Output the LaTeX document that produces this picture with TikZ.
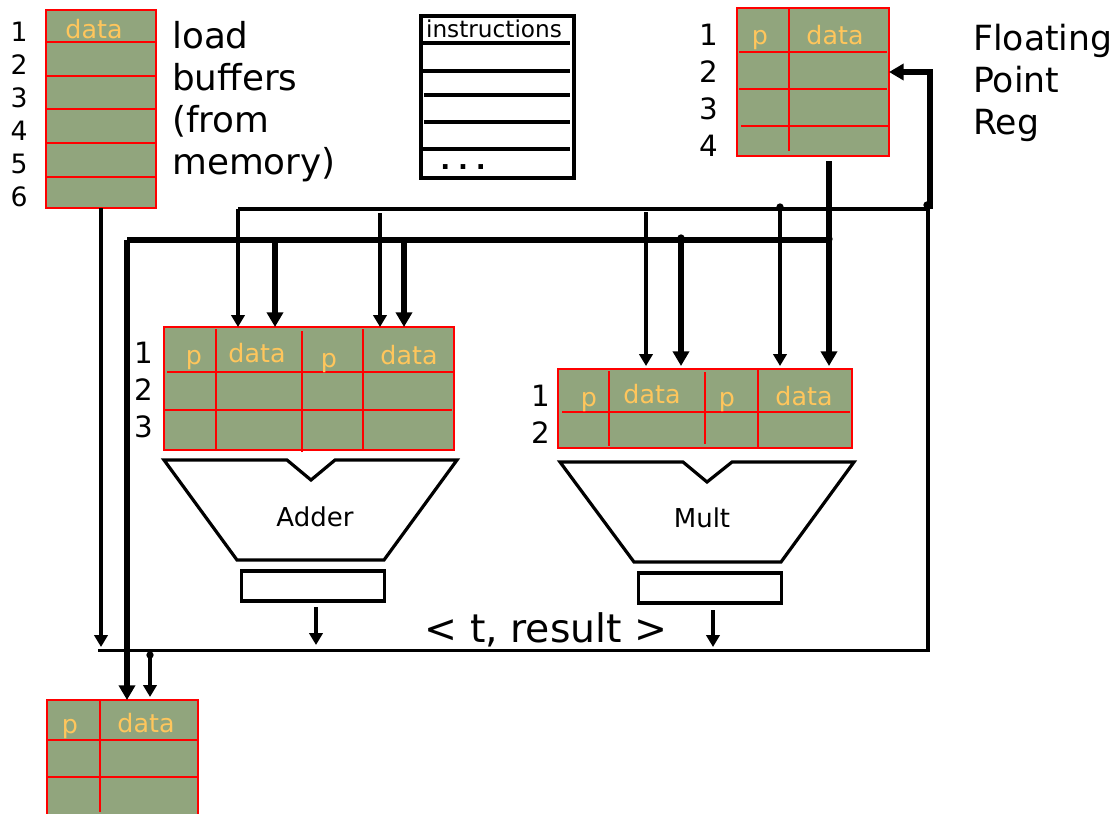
\documentclass[tikz,border=0pt]{standalone}
\usepackage{fontspec}
\setmainfont{DejaVu Sans}
\usetikzlibrary{positioning, calc, arrows.meta}
\definecolor{cellgreen}{RGB}{145,165,125}
\definecolor{cellgold}{RGB}{255,198,92}

\begin{document}
\begin{tikzpicture}[
		x=0.75pt, y=-0.75pt, % one unit is one pixel of the reference
		regtable/.style={
				draw=red,
				line width=1.5pt,
				fill=cellgreen,
				rectangle,
				inner sep=0pt,
				outer sep=0pt
			},
		gridline/.style={
				draw=red,
				line width=1.4pt
			},
		hdr/.style={
				text=cellgold,
				inner sep=0pt,
				font=\fontsize{19}{23}\selectfont
			},
		rownum/.style={
				inner sep=0pt,
				font=\fontsize{22}{26}\selectfont
			},
		smallnum/.style={
				inner sep=0pt,
				font=\fontsize{20}{24}\selectfont
			},
		sidelabel/.style={
				anchor=north west,
				inner sep=0pt,
				align=left,
				font=\fontsize{26}{31.5}\selectfont
			},
		unitlabel/.style={
				inner sep=0pt,
				font=\fontsize{19.5}{23}\selectfont
			},
		outbox/.style={
				draw,
				rectangle,
				line width=2.4pt,
				minimum width=107pt,
				minimum height=22.5pt,
				outer sep=0pt
			},
		alu/.style={
				draw,
				line width=2.4pt,
				line join=miter
			},
		thinbus/.style={
				line width=2.4pt
			},
		thickbus/.style={
				line width=4pt
			},
		thinarrow/.style={
				line width=2.4pt,
				-{Triangle[length=9pt,width=10pt]}
			},
		thickarrow/.style={
				line width=4pt,
				-{Triangle[length=11pt,width=12pt]}
			},
		tapdot/.style={
				fill=black,
				circle,
				inner sep=0pt,
				minimum size=5.5pt
			}
	]
	\useasboundingbox (0,0) rectangle (1118,814);

	% Register tables
	\node[regtable, minimum width=82.5pt, minimum height=148.5pt] (loadbuf) at (101,109) {};
	\node[regtable, minimum width=114pt, minimum height=111pt] (fpreg) at (813,82) {};
	\node[regtable, minimum width=217.5pt, minimum height=92.25pt] (addrs) at (309,388.5) {};
	\node[regtable, minimum width=220.5pt, minimum height=59.25pt] (multrs) at (705,408.5) {};
	\node[regtable, draw=none, minimum width=112.9pt, minimum height=85.5pt] (storebuf) at (122.75,757) {};
	\draw[gridline, line width=1.5pt] (storebuf.south west) |- (storebuf.north east) -- (storebuf.south east);

	% Table rules
	\draw[gridline] (46,42) -- (156,42);
	\draw[gridline] (46,76) -- (156,76);
	\draw[gridline] (46,109) -- (156,109);
	\draw[gridline] (46,143) -- (156,143);
	\draw[gridline] (46,177) -- (156,177);

	\draw[gridline] (739,52) -- (887,52);
	\draw[gridline] (739,89) -- (887,89);
	\draw[gridline] (741,126) -- (889,126);
	\draw[gridline] (789,8) -- (789,151);

	\draw[gridline] (167,372) -- (454,372);
	\draw[gridline] (164,410) -- (452,410);
	\draw[gridline] (216,329) -- (216,450);
	\draw[gridline] (302,331) -- (302,452);
	\draw[gridline] (363,329) -- (363,450);

	\draw[gridline] (562,412) -- (850,412);
	\draw[gridline] (609,371) -- (609,446);
	\draw[gridline] (705,372) -- (705,444);
	\draw[gridline] (758,369) -- (758,448);

	\draw[gridline] (47,740) -- (198,740);
	\draw[gridline] (47,777) -- (198,777);
	\draw[gridline] (100,700) -- (100,812);

	% Column headers
	\node[hdr] (loaddata) at (94,29) {data};
	\node[hdr] (fpp) at (760,40) {p};
	\node[hdr] (fpdata) at (835,35) {data};
	\node[hdr] (addp1) at (194,360) {p};
	\node[hdr] (adddata1) at (257,353) {data};
	\node[hdr] (addp2) at (329,363) {p};
	\node[hdr] (adddata2) at (409,355) {data};
	\node[hdr] (multp1) at (589,402) {p};
	\node[hdr] (multdata1) at (652,394) {data};
	\node[hdr] (multp2) at (727,402) {p};
	\node[hdr] (multdata2) at (804,396) {data};
	\node[hdr] (storep) at (70,729) {p};
	\node[hdr] (storedata) at (146,723) {data};

	% Row numbers
	\node[smallnum] (load1) at (19,32) {1};
	\node[smallnum] (load2) at (19,65) {2};
	\node[smallnum] (load3) at (19,98) {3};
	\node[smallnum] (load4) at (19,131) {4};
	\node[smallnum] (load5) at (19,164) {5};
	\node[smallnum] (load6) at (19,197) {6};
	\node[rownum] (fp1) at (709,35) {1};
	\node[rownum] (fp2) at (709,72) {2};
	\node[rownum] (fp3) at (709,109) {3};
	\node[rownum] (fp4) at (709,146) {4};
	\node[rownum] (add1) at (144,353) {1};
	\node[rownum] (add2) at (144,390) {2};
	\node[rownum] (add3) at (144,427) {3};
	\node[rownum] (mult1) at (541,396) {1};
	\node[rownum] (mult2) at (541,433) {2};

	% Side labels
	\node[sidelabel, font=\fontsize{26.8}{31.5}\selectfont] (loadlabel) at (172,21) {load\\buffers\\(from\\memory)};
	\node[sidelabel] (fplabel) at (973,24) {Floating\\Point\\Reg};
	\node[inner sep=0pt, font=\fontsize{29.5}{34}\selectfont] (tagresult) at (546,630) {< t, result >};

	% Instruction queue
	\node[draw, rectangle, line width=2.3pt, inner sep=0pt, outer sep=0pt,
		minimum width=114.75pt, minimum height=121.5pt] (instrq) at (497.5,97) {};
	\node[inner sep=0pt, font=\fontsize{17.4}{20}\selectfont] (instrlabel) at (494,29) {instructions};
	\draw[thinbus] (421,43) -- (570,43);
	\draw[thinbus] (423,71) -- (570,71);
	\draw[thinbus] (424,95) -- (570,95);
	\draw[thinbus] (424,122) -- (570,122);
	\draw[thinbus] (421,149) -- (570,149);
	\node[inner sep=0pt, font=\fontsize{19.6}{23}\bfseries\addfontfeature{LetterSpace=30}] (instrmore) at (463,167) {...};

	% Functional units
	\draw[alu] (164,460) -- (287,460) -- (311,480) -- (335,460) -- (457,460) -- (384,560) -- (237,560) -- cycle;
	\node[unitlabel] (adderlabel) at (315,517) {Adder};
	\draw[alu] (560,462) -- (683,462) -- (707,482) -- (732,462) -- (854,462) -- (781,562) -- (634,562) -- cycle;
	\node[unitlabel] (multlabel) at (702,518) {Mult};
	\node[outbox] (adderout) at (313,586) {};
	\node[outbox] (multout) at (710,588) {};

	% Junctions and free ends
	\coordinate (busatop) at (238,209);
	\coordinate (busacorner) at (928,209);
	\coordinate (cdbright) at (928,650.5);
	\coordinate (cdbleft) at (98,650.5);
	\coordinate (busbleft) at (127,240);
	\coordinate (busbright) at (829,240);
	\coordinate (fpdrop) at (829,161);
	\coordinate (addin2) at (380,213);
	\coordinate (addin3) at (275,240);
	\coordinate (addin4) at (404,240);
	\coordinate (multin1) at (646,212);
	\coordinate (multin2) at (681,240);
	\coordinate (multin3) at (780,209);
	\coordinate (fpret) at (930,209);
	\coordinate (loaddrop) at (101,647);
	\coordinate (addres) at (316,607);
	\coordinate (addrestip) at (316,645);
	\coordinate (multres) at (713,610);
	\coordinate (multrestip) at (713,647);
	\coordinate (storetap) at (150,654);

	% Buses
	\draw[thinbus] (busatop) -- (busacorner) -- (cdbright) -- (cdbleft);
	\draw[thickbus] (busbleft) -- (busbright);

	% Paths into the adder stations
	\draw[thinarrow] (busatop) -- (busatop |- addrs.north);
	\draw[thickarrow] (addin3) -- (addin3 |- addrs.north);
	\draw[thinarrow] (addin2) -- (addin2 |- addrs.north);
	\draw[thickarrow] (addin4) -- (addin4 |- addrs.north);

	% Paths into the multiplier stations
	\draw[thinarrow] (multin1) -- ($(multin1 |- multrs.north)+(0,-3)$);
	\draw[thickarrow] (multin2) -- ($(multin2 |- multrs.north)+(0,-3)$);
	\draw[thinarrow] (multin3) -- ($(multin3 |- multrs.north)+(0,-3)$);
	\draw[thickarrow] (fpdrop) -- ($(fpdrop |- multrs.north)+(0,-3)$);

	% Register file return path
	\draw[thickarrow] (fpret) |- (fpreg.east |- 0,72);

	% Results onto the common bus
	\draw[thinarrow] (loadbuf.south -| loaddrop) -- (loaddrop);
	\draw[thinarrow] (addres) -- (addrestip);
	\draw[thinarrow] (multres) -- (multrestip);

	% Bottom buffer
	\draw[thickarrow] (busbleft) -- (busbleft |- storebuf.north);
	\draw[thinarrow] (storetap) -- ($(storetap |- storebuf.north)+(0,-3)$);

	% Tap dots
	\node[tapdot] (dot1) at (780,207) {};
	\node[tapdot] (dot2) at (927,205) {};
	\node[tapdot] (dot3) at (829,239) {};
	\node[tapdot] (dot4) at (681,238) {};
	\node[tapdot] (dot5) at (150,655) {};
	\node[tapdot, minimum size=3pt] (dot6) at (404,239) {};
\end{tikzpicture}
\end{document}
